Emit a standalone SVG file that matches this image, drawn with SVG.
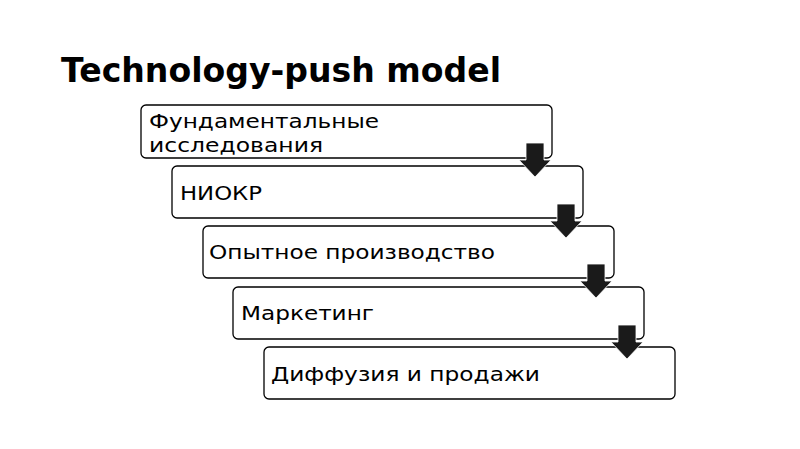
<svg xmlns="http://www.w3.org/2000/svg" width="800" height="449" viewBox="0 0 800 449">
<defs>
<style>
.box{fill:#fff;stroke:#000;stroke-width:1.3}
.lbl{font-family:"DejaVu Sans",sans-serif;font-size:20px;fill:#000}
.ttl{font-family:"DejaVu Sans",sans-serif;font-size:33px;font-weight:bold;fill:#000}
.arr{fill:#1a1a1a;stroke:#fff;stroke-width:0.8}
</style>
<path id="arrow" d="M-9,0 H9 V17 H16 L0,34 L-16,17 H-9 Z"/>
</defs>
<rect width="800" height="449" fill="#fff"/>
<text class="ttl" x="61" y="82" textLength="440" lengthAdjust="spacingAndGlyphs">Technology-push model</text>
<g id="n1"><rect class="box" x="141" y="105" width="411" height="53" rx="5"/><text class="lbl" x="149" y="128" textLength="230" lengthAdjust="spacingAndGlyphs">Фундаментальные</text><text class="lbl" x="149" y="152" textLength="174" lengthAdjust="spacingAndGlyphs">исследования</text></g>
<g id="n2"><rect class="box" x="172" y="166" width="411" height="52" rx="5"/><text class="lbl" x="180" y="200" textLength="82" lengthAdjust="spacingAndGlyphs">НИОКР</text></g>
<g id="n3"><rect class="box" x="203" y="226" width="411" height="52" rx="5"/><text class="lbl" x="209" y="259" textLength="286" lengthAdjust="spacingAndGlyphs">Опытное производство</text></g>
<g id="n4"><rect class="box" x="233" y="287" width="411" height="52" rx="5"/><text class="lbl" x="241" y="320" textLength="133" lengthAdjust="spacingAndGlyphs">Маркетинг</text></g>
<g id="n5"><rect class="box" x="264" y="347" width="411" height="52" rx="5"/><text class="lbl" x="271" y="381" textLength="269" lengthAdjust="spacingAndGlyphs">Диффузия и продажи</text></g>
<g id="connectors">
<use href="#arrow" class="arr" x="535" y="143"/>
<use href="#arrow" class="arr" x="566" y="204"/>
<use href="#arrow" class="arr" x="596" y="264"/>
<use href="#arrow" class="arr" x="627" y="325"/>
</g>
</svg>
